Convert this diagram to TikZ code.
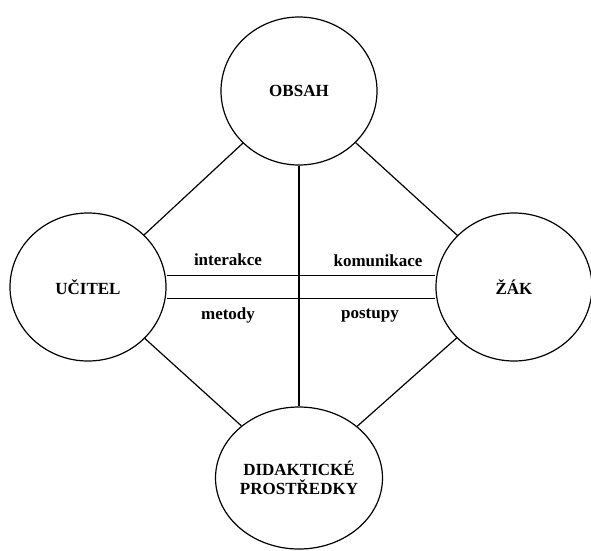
\documentclass[tikz,border=0pt]{standalone}
\usepackage{fontspec}
\setmainfont{Liberation Serif}
\usetikzlibrary{shapes.geometric}
\begin{document}
\begin{tikzpicture}[x=1pt, y=-1pt, line width=1.2pt,
    kruh/.style={ellipse, draw, minimum width=156pt, minimum height=148pt, inner sep=0pt, align=center, font=\fontsize{17}{19}\selectfont\bfseries},
    popis/.style={font=\fontsize{17}{19}\selectfont\bfseries}]
    \useasboundingbox (0,0) rectangle (591,550);

    % Vrcholy
    \node[kruh] (O) at (299,91) {OBSAH};
    \node[kruh] (U) at (88,287) {UČITEL};
    \node[kruh] (Z) at (514,287) {ŽÁK};
    \node[kruh, minimum height=142pt] (D) at (299,478) {DIDAKTICKÉ\\PROSTŘEDKY};

    % Spojnice po obvodu
    \draw (O) -- (U);
    \draw (O) -- (Z);
    \draw (U) -- (D);
    \draw (Z) -- (D);

    % Dvojita cara ucitel - zak
    \draw[double, double distance=21.8pt] (U) -- (Z);

    % Svisla cara obsah - prostredky
    \draw (O) -- (D);

    % Popisky
    \node[popis] (interakce) at (228,260) {interakce};
    \node[popis] (komunikace) at (378,261) {komunikace};
    \node[popis] (metody) at (228,315) {metody};
    \node[popis] (postupy) at (370,316) {postupy};
\end{tikzpicture}
\end{document}
